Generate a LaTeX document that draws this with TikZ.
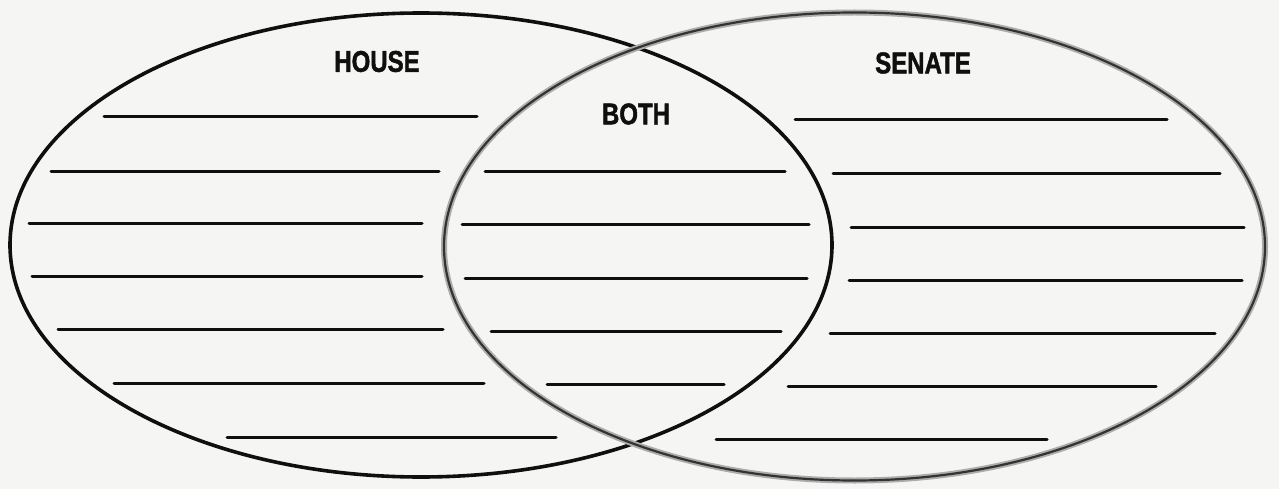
\documentclass[tikz,border=0pt]{standalone}
\usepackage{fontspec}
\setmainfont{Liberation Sans}[FakeStretch=0.8]
\newfontfamily\titlefont{Liberation Sans}[FakeStretch=0.8,BoldFeatures={FakeBold=1.5}]
\definecolor{paper}{RGB}{245,245,243}
\definecolor{ink}{RGB}{15,15,15}
\begin{document}
\begin{tikzpicture}[x=1pt,y=-1pt,
  blank/.style={draw=ink,line width=3pt,line cap=round},
  title/.style={font=\titlefont\fontsize{30}{30}\selectfont\bfseries,text=ink,inner sep=0pt}]
\useasboundingbox (0,0) rectangle (1279,489);
\fill[paper] (0,0) rectangle (1279,489);
% ellipses
\draw[draw=ink,line width=3.6pt] (421,245) ellipse [x radius=411pt, y radius=232pt];
\draw[draw=gray!65,line width=6pt] (854.5,246.5) ellipse [x radius=410.5pt, y radius=234pt];
\draw[draw=ink!85,line width=2.2pt] (854.5,246.5) ellipse [x radius=410.5pt, y radius=234pt];
% titles
\node[title] (house) at (377,61.5) {HOUSE};
\node[title] (both) at (636,114) {BOTH};
\node[title] (senate) at (923,63) {SENATE};
% House lines
\draw[blank] (104,117) -- (477,117);
\draw[blank] (51,172) -- (439,172);
\draw[blank] (29,223) -- (422,223);
\draw[blank] (32,276) -- (422,276);
\draw[blank] (58,329) -- (443,329);
\draw[blank] (114,383) -- (484,383);
\draw[blank] (227,437) -- (556,437);
% Both lines
\draw[blank] (485,172) -- (785,172);
\draw[blank] (462,224) -- (809,224);
\draw[blank] (465,278) -- (807,278);
\draw[blank] (491,331) -- (781,331);
\draw[blank] (547,384) -- (724,384);
% Senate lines
\draw[blank] (795,120) -- (1167,120);
\draw[blank] (833,174) -- (1220,174);
\draw[blank] (851,227) -- (1244,227);
\draw[blank] (849,280) -- (1242,280);
\draw[blank] (830,333) -- (1215,333);
\draw[blank] (788,386) -- (1156,386);
\draw[blank] (716,439) -- (1047,439);
\end{tikzpicture}
\end{document}
